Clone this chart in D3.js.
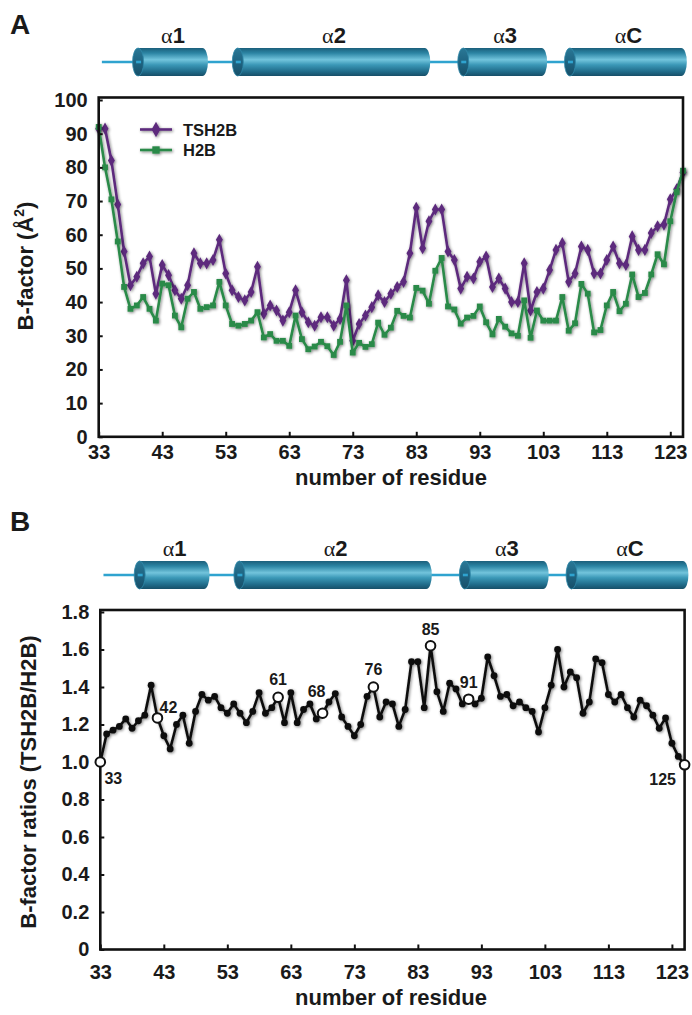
<!DOCTYPE html>
<html><head><meta charset="utf-8">
<script src="https://cdn.jsdelivr.net/npm/d3@7"></script>
<style>
body{margin:0;background:#fff}
svg{display:block}
text{font-family:"Liberation Sans",Arial,Helvetica,sans-serif;font-weight:bold;fill:#1a1a1a}
</style>
</head><body>
<svg id="chart" width="692" height="1015"></svg>
<script>
// ---------------- DATA ----------------
const firstResidue = 33;
const lastResidue = 125;
// B-factors (Å²) for residues 33..125
const tsh2b = [91.5,91.5,82,69,55,45,47.5,51.5,53.5,42.5,
  51,48,43.5,41,45,54.5,51.5,51.5,52.5,58.5,
  48.5,43.5,41.5,40.5,43,50.5,36.5,39,37.5,34.5,
  37,43.5,37,34,33,35.5,35.5,33,35,46.5,
  28.5,33.5,36,38.5,42,40,42.5,44.5,46,54.5,
  68,56,64,67.5,67.5,55,52.5,44,47.5,47,
  52,53.5,44.5,47,44,40,40,51.5,37.5,43,
  44,49.5,55.5,57.5,46,48.5,56.5,55.5,48.5,48.5,
  52.5,56.5,51.5,51,59.5,55.5,55.5,60.5,62.5,63,
  70.5,73.5,78.5];
const h2b = [92,80,70.5,58,44.5,38,39,41.5,38,34.5,
  45.5,45,36,32.5,41,43,38,38.5,39,46,
  39,33.5,33,33.5,34.5,37,29.5,30.5,28.5,28.5,
  27,36,29,26,26.8,28.2,26.9,24.3,28.2,39,
  25,27.9,26.7,27.5,33.9,30.3,32.4,37.4,35.9,35.4,
  44.2,43.4,39.5,49.3,53.1,38.7,37.8,33.6,35.4,35.9,
  38.7,34,30.4,35,32.7,30.7,30,40.5,29.4,37.5,
  34.5,34.5,34.5,41.5,31.5,33.7,45.4,42.5,31,31.7,
  39,43,37.3,39.5,48.2,41.5,42.7,48.2,54.2,51.2,
  64,72.7,79];
// B-factor ratios TSH2B/H2B for residues 33..125
const ratio = [1.0,1.15,1.17,1.19,1.23,1.18,1.22,1.25,1.41,1.235,
  1.14,1.07,1.20,1.25,1.10,1.27,1.36,1.33,1.35,1.29,
  1.26,1.31,1.26,1.21,1.27,1.37,1.26,1.29,1.345,1.21,
  1.37,1.21,1.28,1.31,1.23,1.26,1.32,1.365,1.24,1.19,
  1.14,1.20,1.35,1.40,1.24,1.32,1.31,1.19,1.28,1.535,
  1.535,1.29,1.62,1.375,1.27,1.42,1.39,1.31,1.335,1.31,
  1.34,1.56,1.46,1.35,1.36,1.30,1.32,1.29,1.27,1.16,
  1.29,1.41,1.60,1.40,1.48,1.45,1.26,1.32,1.55,1.53,
  1.36,1.32,1.36,1.29,1.24,1.33,1.30,1.25,1.18,1.235,
  1.10,1.03,0.985];
const openResidues = [33,42,61,68,76,85,91,125];
const seriesNames = ["TSH2B","H2B"];
const helixLabels = ["1","2","3","C"];
const helixStart = [39.2,54.9,90.4,107.2];
const helixEnd   = [50.2,85.2,103.6,125.6];
const xTickValues = [33,43,53,63,73,83,93,103,113,123];
const yTicksA = [0,10,20,30,40,50,60,70,80,90,100];
const yTicksB = [0,0.2,0.4,0.6,0.8,1.0,1.2,1.4,1.6,1.8];

// ---------------- STYLE / LAYOUT ----------------
const purple = "#5d2b7d", green = "#2a8a48";
const annot = {33:[13,22], 42:[11,-5], 61:[0,-12], 68:[-6,-16], 76:[0,-12], 85:[0,-11], 91:[0,-11], 125:[-22,20]};

const residues = tsh2b.map((_, i) => firstResidue + i);
const svg = d3.select("#chart");
const defs = svg.append("defs");

const f = defs.append("filter").attr("id","sh").attr("x","-50%").attr("y","-50%").attr("width","200%").attr("height","200%");
f.append("feGaussianBlur").attr("in","SourceAlpha").attr("stdDeviation",1.4).attr("result","b");
f.append("feOffset").attr("in","b").attr("dx",0.6).attr("dy",1).attr("result","o");
const ct = f.append("feComponentTransfer").attr("in","o").attr("result","c");
ct.append("feFuncA").attr("type","linear").attr("slope",0.5);
const fm = f.append("feMerge");
fm.append("feMergeNode").attr("in","c");
fm.append("feMergeNode").attr("in","SourceGraphic");

const gBody = defs.append("linearGradient").attr("id","cyl").attr("x1",0).attr("y1",0).attr("x2",0).attr("y2",1);
[[0,"#1b5f7b"],[0.18,"#2b84a3"],[0.42,"#72c4dc"],[0.6,"#3b98b7"],[0.85,"#1f6a88"],[1,"#174f68"]]
  .forEach(s => gBody.append("stop").attr("offset",s[0]).attr("stop-color",s[1]));
const gCap = defs.append("linearGradient").attr("id","cap").attr("x1",0).attr("y1",0).attr("x2",0).attr("y2",1);
[[0,"#2a7896"],[0.5,"#1e6482"],[1,"#174f68"]]
  .forEach(s => gCap.append("stop").attr("offset",s[0]).attr("stop-color",s[1]));

function drawHelices(x, cy){
  const g = svg.append("g");
  const ry = 14, rx = 5.5;
  g.append("line").attr("x1", x(33.5)).attr("x2", x(helixStart[3]) + 2)
    .attr("y1", cy).attr("y2", cy).attr("stroke","#2fa3cf").attr("stroke-width",2.6);
  helixStart.forEach((s, i) => {
    const x0 = x(s), x1 = x(helixEnd[i]) - rx;
    g.append("path")
      .attr("d", `M${x0},${cy-ry} L${x1},${cy-ry} A${rx},${ry} 0 0 1 ${x1},${cy+ry} L${x0},${cy+ry} Z`)
      .attr("fill","url(#cyl)");
    g.append("ellipse").attr("cx", x0).attr("cy", cy).attr("rx", rx).attr("ry", ry)
      .attr("fill","url(#cap)").attr("stroke","#2f88a8").attr("stroke-width",0.8);
    g.append("line").attr("x1", x0 - 2).attr("x2", x0 + 3).attr("y1", cy).attr("y2", cy)
      .attr("stroke","#2fa3cf").attr("stroke-width",2.6);
    const t = g.append("text").attr("x", (x0 + x1 + rx) / 2).attr("y", cy - 19)
      .attr("text-anchor","middle").attr("font-size",22);
    t.append("tspan").text("α").style("font-family","'Liberation Serif','Times New Roman',serif").style("font-weight","normal");
    t.append("tspan").text(helixLabels[i]);
  });
}

function frame(x, y, top){
  const [x0, x1] = x.range();
  const yb = y.range()[0];
  svg.append("rect").attr("x", x0).attr("y", top).attr("width", x1 - x0).attr("height", yb - top)
    .attr("fill","none").attr("stroke","#111").attr("stroke-width",2.6);
}

function axes(x, y, yTicks, fmt, yb, xPad){
  const ax = svg.append("g").attr("transform", `translate(0,${yb})`)
    .call(d3.axisBottom(x).tickValues(xTickValues).tickSizeInner(-5).tickSizeOuter(0).tickPadding(xPad));
  ax.select(".domain").remove();
  ax.selectAll("line").attr("stroke","#111").attr("stroke-width",2);
  ax.selectAll("text").attr("font-size",20).attr("fill","#1a1a1a");
  const ay = svg.append("g").attr("transform", `translate(${x.range()[0]},0)`)
    .call(d3.axisLeft(y).tickValues(yTicks).tickFormat(fmt).tickSizeInner(-4).tickSizeOuter(0).tickPadding(11));
  ay.select(".domain").remove();
  ay.selectAll("line").attr("stroke","#111").attr("stroke-width",2);
  ay.selectAll("text").attr("font-size",20).attr("fill","#1a1a1a");
}

// ---------------- PANEL A ----------------
const xA = d3.scaleLinear().domain([firstResidue, lastResidue]).range([98.7, 683]);
const yA = d3.scaleLinear().domain([0, 100]).range([436.8, 100]);
svg.append("text").attr("x", 10).attr("y", 34).attr("font-size", 28).text("A");
drawHelices(xA, 62);
const seriesA = [
  {name: seriesNames[0], values: tsh2b, color: purple, sym: d3.symbolDiamond, size: 42},
  {name: seriesNames[1], values: h2b, color: green, sym: d3.symbolSquare, size: 34}
];
seriesA.forEach(s => {
  const g = svg.append("g").attr("filter","url(#sh)");
  g.append("path").datum(s.values)
    .attr("d", d3.line().x((d, i) => xA(residues[i])).y(d => yA(d)))
    .attr("fill","none").attr("stroke", s.color).attr("stroke-width",2.6).attr("stroke-linejoin","round");
  g.selectAll("path.m").data(s.values).join("path").attr("class","m")
    .attr("transform", (d, i) => `translate(${xA(residues[i])},${yA(d)})`)
    .attr("d", d3.symbol().type(s.sym).size(s.size)).attr("fill", s.color);
});
frame(xA, yA, 97.5);
axes(xA, yA, yTicksA, d3.format("d"), 436.8, 8);
// legend
seriesA.forEach((s, i) => {
  const ly = 129.5 + i * 20.5;
  const g = svg.append("g").attr("filter","url(#sh)");
  g.append("line").attr("x1",140).attr("x2",172).attr("y1",ly).attr("y2",ly).attr("stroke",s.color).attr("stroke-width",2.6);
  g.append("path").attr("transform",`translate(156,${ly})`).attr("d", d3.symbol().type(s.sym).size(s.size * 1.6)).attr("fill", s.color);
  svg.append("text").attr("x",183).attr("y",ly+6).attr("font-size",16.5).text(s.name);
});
// titles
svg.append("text").attr("transform","translate(33,266) rotate(-90)").attr("text-anchor","middle").attr("font-size",22)
  .call(t => { t.append("tspan").text("B-factor (Å"); t.append("tspan").attr("font-size",14).attr("dy",-9).text("2"); t.append("tspan").attr("dy",9).text(")"); });
svg.append("text").attr("x", 391).attr("y", 485).attr("text-anchor","middle").attr("font-size",22).text("number of residue");

// ---------------- PANEL B ----------------
const xB = d3.scaleLinear().domain([firstResidue, lastResidue]).range([100.3, 684.6]);
const yB = d3.scaleLinear().domain([0, 1.8]).range([949.5, 612]);
svg.append("text").attr("x", 10).attr("y", 531).attr("font-size", 28).text("B");
drawHelices(xB, 575);
const gB = svg.append("g").attr("filter","url(#sh)");
gB.append("path").datum(ratio)
  .attr("d", d3.line().x((d, i) => xB(residues[i])).y(d => yB(d)))
  .attr("fill","none").attr("stroke","#111").attr("stroke-width",2.6).attr("stroke-linejoin","round");
gB.selectAll("circle.f").data(ratio.map((v, i) => ({r: residues[i], v})).filter(d => !openResidues.includes(d.r)))
  .join("circle").attr("class","f").attr("cx", d => xB(d.r)).attr("cy", d => yB(d.v)).attr("r",3.4).attr("fill","#111");
frame(xB, yB, 610);
axes(xB, yB, yTicksB, d => d === 0 ? "0" : d3.format(".1f")(d), 949.5, 15);
const openData = openResidues.map(r => ({r, v: ratio[r - firstResidue]}));
svg.append("g").selectAll("circle").data(openData).join("circle")
  .attr("cx", d => xB(d.r)).attr("cy", d => yB(d.v)).attr("r",4.8)
  .attr("fill","#fff").attr("stroke","#111").attr("stroke-width",2);
svg.append("g").selectAll("text").data(openData).join("text")
  .attr("x", d => xB(d.r) + annot[d.r][0]).attr("y", d => yB(d.v) + annot[d.r][1])
  .attr("text-anchor","middle").attr("font-size",16).text(d => d.r);
svg.append("text").attr("transform","translate(36,782) rotate(-90)").attr("text-anchor","middle").attr("font-size",22)
  .text("B-factor ratios (TSH2B/H2B)");
svg.append("text").attr("x", 391).attr("y", 1005).attr("text-anchor","middle").attr("font-size",22).text("number of residue");
</script>
</body></html>
